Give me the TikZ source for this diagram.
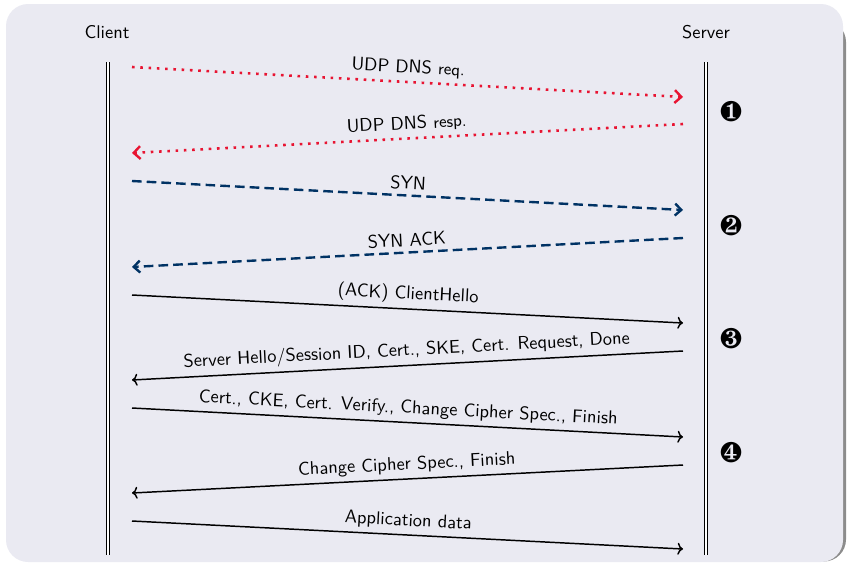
\documentclass[tikz,border=0pt]{standalone}
\usepackage{pifont}
\usetikzlibrary{arrows.meta}
\definecolor{panelbg}{RGB}{234,234,242}
\definecolor{udpred}{RGB}{232,20,50}
\definecolor{tcpblue}{RGB}{0,50,100}
\begin{document}
\begin{tikzpicture}[x=0.543pt,y=-0.543pt,
  font=\sffamily,
  lifeline/.style={draw=black, double=white, line width=0.45pt, double distance=1.2pt},
  udpmsg/.style={draw=udpred, line width=1.4pt, dash pattern=on 1.4pt off 3.1pt, -{Straight Barb[length=3.6pt,width=7pt,line width=1.3pt]}},
  tcpmsg/.style={draw=tcpblue, line width=1.3pt, dash pattern=on 5.2pt off 2.8pt, -{Straight Barb[length=3.4pt,width=6.5pt,line width=1.3pt]}},
  tlsmsg/.style={draw=black, line width=0.8pt, -{To[length=3pt,width=6.5pt]}},
  msglabel/.style={midway, above, sloped, inner sep=2.5pt},
  phase/.style={font=\fontsize{15.5}{16}\selectfont}
]
\useasboundingbox (0,0) rectangle (847,565);
% panel with its shadow on the right
\fill[black!45, rounded corners=12] (12,20) rectangle (846,561.5);
\fill[panelbg, rounded corners=12] (6,4) rectangle (843,562);

% participants
\node (client) at (107,32) {Client};
\node (server) at (706,32) {Server};
\coordinate (ctop) at (108,62);
\coordinate (cbot) at (108,555);
\coordinate (stop) at (706,62);
\coordinate (sbot) at (706,555);
\draw[lifeline] (ctop) -- (cbot);
\draw[lifeline] (stop) -- (sbot);

% message end points
\coordinate (c1) at (132,67);  \coordinate (s1) at (683,97);
\coordinate (s2) at (683,124); \coordinate (c2) at (132,153);
\coordinate (c3) at (132,181); \coordinate (s3) at (683,210);
\coordinate (s4) at (683,238); \coordinate (c4) at (132,267);
\coordinate (c5) at (132,295); \coordinate (s5) at (683,323);
\coordinate (s6) at (683,351); \coordinate (c6) at (132,380);
\coordinate (c7) at (132,408); \coordinate (s7) at (683,437);
\coordinate (s8) at (683,465); \coordinate (c8) at (132,493);
\coordinate (c9) at (132,521); \coordinate (s9) at (683,549);

% DNS lookup
\draw[udpmsg] (c1) -- node[msglabel] {UDP DNS {\small req.}} (s1);
\draw[udpmsg] (s2) -- node[msglabel] {UDP DNS {\small resp.}} (c2);
% TCP handshake
\draw[tcpmsg] (c3) -- node[msglabel] {SYN} (s3);
\draw[tcpmsg] (s4) -- node[msglabel] {SYN ACK} (c4);
% TLS handshake
\draw[tlsmsg] (c5) -- node[msglabel] {(ACK) ClientHello} (s5);
\draw[tlsmsg] (s6) -- node[msglabel] {Server Hello/Session ID, Cert., SKE, Cert. Request, Done} (c6);
\draw[tlsmsg] (c7) -- node[msglabel] {Cert., CKE, Cert. Verify., Change Cipher Spec., Finish} (s7);
\draw[tlsmsg] (s8) -- node[msglabel] {Change Cipher Spec., Finish} (c8);
\draw[tlsmsg] (c9) -- node[msglabel] {Application data} (s9);

% phase markers
\node[phase] (p1) at (731,112) {\ding{182}};
\node[phase] (p2) at (731,226) {\ding{183}};
\node[phase] (p3) at (731,339) {\ding{184}};
\node[phase] (p4) at (731,453) {\ding{185}};
\end{tikzpicture}
\end{document}
